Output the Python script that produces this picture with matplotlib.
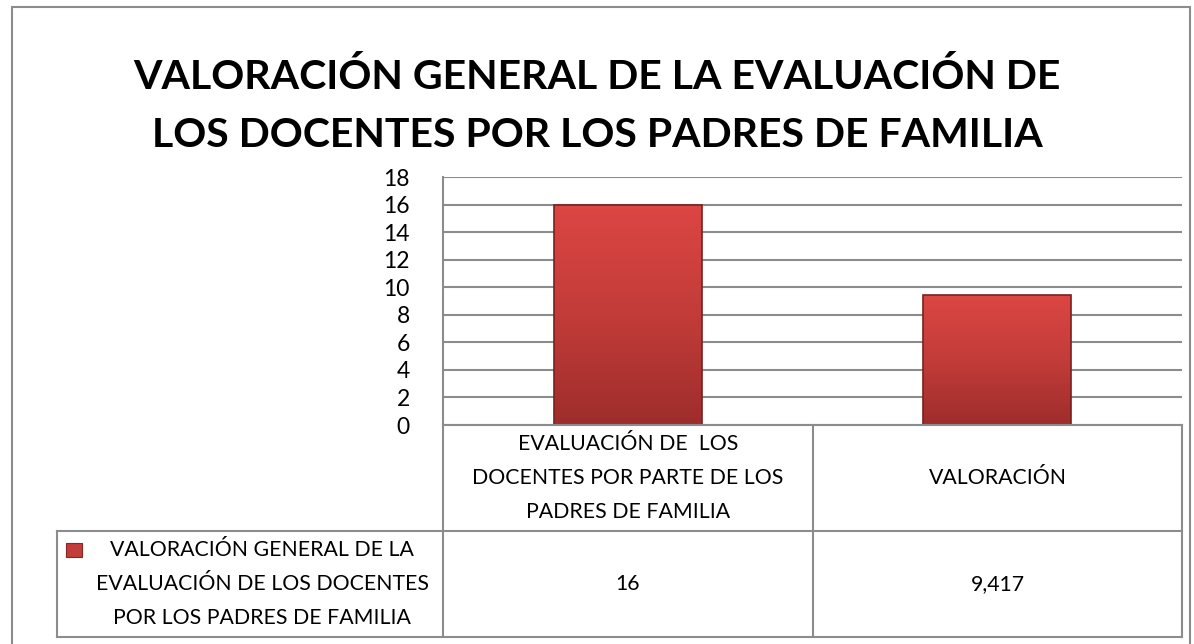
import numpy as np
import matplotlib.pyplot as plt
from matplotlib.patches import Rectangle
from matplotlib.colors import LinearSegmentedColormap

titulo = 'VALORACIÓN GENERAL DE LA EVALUACIÓN DE\nLOS DOCENTES POR LOS PADRES DE FAMILIA'
categorias = ['EVALUACIÓN DE  LOS\nDOCENTES POR PARTE DE LOS\nPADRES DE FAMILIA', 'VALORACIÓN']
valores = [16, 9.417]
etiquetas_valor = ['16', '9,417']
serie = 'VALORACIÓN GENERAL DE LA\nEVALUACIÓN DE LOS DOCENTES\nPOR LOS PADRES DE FAMILIA'
yticks = np.arange(0, 19, 2)

plt.rcParams['font.family'] = ['Lato', 'DejaVu Sans']
W, H = 1194, 644
fig = plt.figure(figsize=(W / 100, H / 100), dpi=100)

def fx(px):
    return px / W

def fy(py):
    return 1 - py / H

gris = '#8c8c8c'
# outer border
fig.add_artist(Rectangle((fx(12), fy(650)), fx(1190) - fx(12), fy(7) - fy(650),
                         transform=fig.transFigure, fill=False, ec=gris, lw=1.5))

fig.text(0.5, fy(106), titulo, ha='center', va='center', fontsize=29.5, fontweight='bold',
         linespacing=1.68)

ax = fig.add_axes([fx(443), fy(425), fx(1182) - fx(443), fy(177) - fy(425)])
x = np.arange(len(valores))
bars = ax.bar(x, valores, width=0.4, color='none', edgecolor='none', zorder=3)
grad = np.linspace(0, 1, 256).reshape(-1, 1)
cmap = LinearSegmentedColormap.from_list('rojo', ['#9e2d2b', '#c23c39', '#dc4643'])
for b in bars:
    x0, w, h = b.get_x(), b.get_width(), b.get_height()
    im = ax.imshow(grad, extent=(x0, x0 + w, 0, h), origin='lower', cmap=cmap,
                   aspect='auto', zorder=3)
    im.set_clip_path(b)
    ax.add_patch(Rectangle((x0, 0), w, h, fill=False, ec='#7a2020', lw=1.2, zorder=4))
ax.set_xlim(-0.5, len(valores) - 0.5)
ax.set_ylim(0, 18)
ax.set_yticks(yticks)
ax.yaxis.grid(True, color=gris, lw=1.5, zorder=0)
ax.set_xticks([])
for s in ['top', 'right', 'bottom']:
    ax.spines[s].set_visible(False)
ax.spines['left'].set_color(gris)
ax.spines['left'].set_linewidth(1.5)
ax.tick_params(axis='y', length=0, labelsize=16.5, pad=24)

# data table
col_x = [443, 813, 1182]
lw = 1.5
for xi in col_x:
    fig.add_artist(plt.Line2D([fx(xi)] * 2, [fy(425), fy(637)], color=gris, lw=lw))
fig.add_artist(plt.Line2D([fx(57)] * 2, [fy(531), fy(637)], color=gris, lw=lw))
fig.add_artist(plt.Line2D([fx(443), fx(1182)], [fy(425)] * 2, color=gris, lw=lw))
fig.add_artist(plt.Line2D([fx(57), fx(1182)], [fy(531)] * 2, color=gris, lw=lw))
fig.add_artist(plt.Line2D([fx(57), fx(1182)], [fy(637)] * 2, color=gris, lw=lw))

fs = 15.3
for i, cat in enumerate(categorias):
    cx = (col_x[i] + col_x[i + 1]) / 2
    fig.text(fx(cx), fy(478), cat, ha='center', va='center', fontsize=fs, linespacing=1.85)
    fig.text(fx(cx), fy(584), etiquetas_valor[i], ha='center', va='center', fontsize=fs)
fig.text(fx(262), fy(584), serie, ha='center', va='center', fontsize=fs, linespacing=1.85)
fig.add_artist(Rectangle((fx(66), fy(557)), 16 / W, 14 / H, transform=fig.transFigure,
                         fc='#c23c39', ec='#8a2424', lw=0.8))

fig.savefig('out.png', dpi=100)
